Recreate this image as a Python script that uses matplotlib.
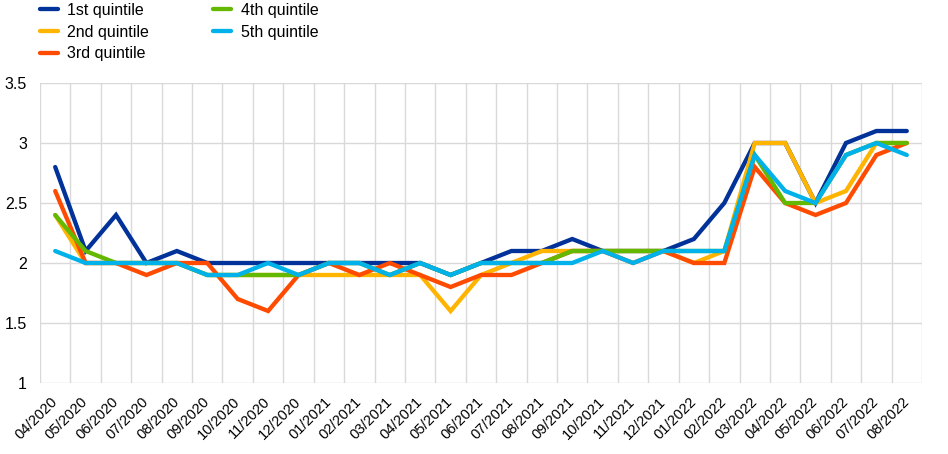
import matplotlib
matplotlib.use('Agg')
import matplotlib.pyplot as plt
from matplotlib.ticker import FuncFormatter, MultipleLocator
import numpy as np

plt.rcParams['font.family'] = ['Liberation Sans', 'DejaVu Sans']

# ----------------------------
# Data
# ----------------------------
months = ['04/2020', '05/2020', '06/2020', '07/2020', '08/2020', '09/2020', '10/2020',
          '11/2020', '12/2020', '01/2021', '02/2021', '03/2021', '04/2021', '05/2021',
          '06/2021', '07/2021', '08/2021', '09/2021', '10/2021', '11/2021', '12/2021',
          '01/2022', '02/2022', '03/2022', '04/2022', '05/2022', '06/2022', '07/2022',
          '08/2022']

q1 = [2.8, 2.1, 2.4, 2.0, 2.1, 2.0, 2.0, 2.0, 2.0, 2.0, 2.0, 2.0, 2.0, 1.9, 2.0, 2.1,
      2.1, 2.2, 2.1, 2.1, 2.1, 2.2, 2.5, 3.0, 3.0, 2.5, 3.0, 3.1, 3.1]
q2 = [2.4, 2.0, 2.0, 2.0, 2.0, 1.9, 1.9, 1.9, 1.9, 1.9, 1.9, 1.9, 1.9, 1.6, 1.9, 2.0,
      2.1, 2.1, 2.1, 2.1, 2.1, 2.0, 2.1, 3.0, 3.0, 2.5, 2.6, 3.0, 3.0]
q3 = [2.6, 2.0, 2.0, 1.9, 2.0, 2.0, 1.7, 1.6, 1.9, 2.0, 1.9, 2.0, 1.9, 1.8, 1.9, 1.9,
      2.0, 2.1, 2.1, 2.0, 2.1, 2.0, 2.0, 2.8, 2.5, 2.4, 2.5, 2.9, 3.0]
q4 = [2.4, 2.1, 2.0, 2.0, 2.0, 1.9, 1.9, 1.9, 1.9, 2.0, 2.0, 1.9, 2.0, 1.9, 2.0, 2.0,
      2.0, 2.1, 2.1, 2.1, 2.1, 2.1, 2.1, 2.9, 2.5, 2.5, 2.9, 3.0, 3.0]
q5 = [2.1, 2.0, 2.0, 2.0, 2.0, 1.9, 1.9, 2.0, 1.9, 2.0, 2.0, 1.9, 2.0, 1.9, 2.0, 2.0,
      2.0, 2.0, 2.1, 2.0, 2.1, 2.1, 2.1, 2.9, 2.6, 2.5, 2.9, 3.0, 2.9]

series = [
    ('1st quintile', q1, '#003299'),
    ('2nd quintile', q2, '#FFB400'),
    ('3rd quintile', q3, '#FF4B00'),
    ('4th quintile', q4, '#65B800'),
    ('5th quintile', q5, '#00B1EA'),
]

# ----------------------------
# Plot
# ----------------------------
fig = plt.figure(figsize=(9.48, 4.54), dpi=100)
ax = fig.add_axes([40/948, 1-383/454, (922-40)/948, (383-83)/454])

x = np.arange(len(months))
for name, vals, col in series:
    ax.plot(x, vals, color=col, lw=3.1, label=name, solid_capstyle='round',
            solid_joinstyle='miter')

ax.set_xlim(-0.5, len(months)-0.5)
ax.set_ylim(1, 3.5)
ax.yaxis.set_major_locator(MultipleLocator(0.5))
ax.yaxis.set_major_formatter(FuncFormatter(lambda v, p: f'{v:g}'))
ax.set_xticks(x)
ax.set_xticklabels(months, rotation=45, ha='right', va='center', rotation_mode='anchor')
ax.set_xticks(np.arange(-0.5, len(months)), minor=True)

ax.grid(axis='y', color='#d9d9d9', lw=1)
ax.grid(axis='x', which='minor', color='#d9d9d9', lw=1)
ax.set_axisbelow(True)
ax.tick_params(axis='both', which='both', length=0)
ax.tick_params(axis='y', pad=9.4, labelsize=11.5)
ax.tick_params(axis='x', pad=12, labelsize=10.5)
for s in ax.spines.values():
    s.set_visible(False)

fig.legend(loc='upper left', bbox_to_anchor=(32/948, 1.011), ncol=2, frameon=False,
           fontsize=11.5, handlelength=1.1, handletextpad=0.62, columnspacing=4.0,
           labelspacing=0.42, borderaxespad=0.1)

fig.savefig('out.png', dpi=100)
